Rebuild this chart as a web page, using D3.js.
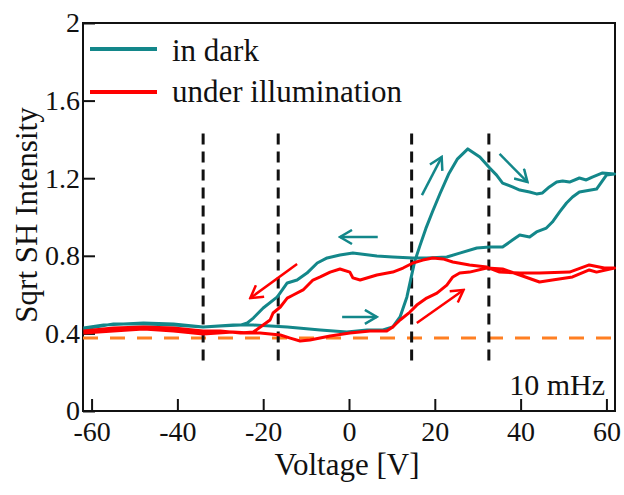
<!DOCTYPE html>
<head>
    <meta charset="utf-8">
    <title>Sqrt SH Intensity vs Voltage</title>
    <script type="text/javascript" src="https://d3js.org/d3.v7.min.js"></script>
    <style>
        body { margin: 0; background: #fff; }
    </style>
</head>
<body>
<div id="container"></div>

<script>
    //-----------------------------DATA-----------------------------//
    // in dark : forward sweep (-62 -> 62) then back sweep (62 -> -62)
    const darkV = [-61.9,-57.2,-47.9,-40.9,-34.0,-27.0,-22.3,-14.4,-6.7,-0.5,4.2,7.9,10.2,11.9,13.5,14.4,15.3,16.5,17.9,19.5,21.2,23.2,25.3,27.7,30.5,32.8,34.4,35.8,38.1,39.8,42.1,43.7,45.1,46.7,48.4,49.8,51.4,53.7,55.3,56.7,59.1,61.9,
                   60.0,57.7,53.7,52.1,50.7,49.1,47.4,46.0,43.7,42.1,39.8,38.1,35.8,32.8,29.8,25.8,22.8,18.1,14.9,10.2,6.5,0.9,-2.1,-5.1,-7.4,-9.8,-12.1,-14.4,-16.7,-20.0,-22.3,-23.7,-25.3,-30.0,-34.0,-40.9,-47.9,-54.9,-61.9];
    const darkI = [0.428,0.443,0.454,0.448,0.433,0.443,0.443,0.433,0.418,0.407,0.418,0.418,0.433,0.485,0.588,0.68,0.77,0.85,0.94,1.03,1.12,1.22,1.30,1.351,1.309,1.253,1.216,1.175,1.155,1.139,1.129,1.119,1.124,1.155,1.18,1.186,1.18,1.201,1.191,1.206,1.227,1.222,
                   1.216,1.144,1.129,1.103,1.072,1.026,0.974,0.943,0.923,0.897,0.907,0.881,0.845,0.845,0.840,0.814,0.794,0.789,0.789,0.794,0.799,0.814,0.804,0.789,0.763,0.711,0.675,0.660,0.588,0.531,0.479,0.454,0.443,0.438,0.433,0.443,0.448,0.448,0.423];

    // under illumination : forward then back
    const lightV = [-61.9,-54.9,-47.9,-40.9,-34.0,-27.0,-23.0,-20.7,-16.0,-13.7,-11.4,-9.1,-4.4,0.2,4.9,8.8,10.2,11.9,14.2,15.8,18.1,20.5,22.8,24.2,25.8,28.1,32.1,35.8,39.8,44.4,47.4,52.1,56.0,57.7,61.9,
                    59.5,56.0,51.4,44.4,39.8,35.1,32.1,28.1,24.2,21.9,19.5,17.2,14.9,12.6,10.2,6.5,2.6,0.9,0.2,-2.1,-4.4,-6.7,-8.4,-10.7,-13.0,-14.4,-16.0,-17.7,-18.4,-20.0,-22.3,-25.3,-30.0,-34.0,-40.9,-47.9,-54.9,-61.9];
    const lightI = [0.402,0.412,0.423,0.412,0.397,0.407,0.402,0.402,0.392,0.376,0.361,0.366,0.387,0.402,0.412,0.412,0.433,0.469,0.510,0.546,0.582,0.608,0.649,0.691,0.711,0.716,0.737,0.732,0.701,0.665,0.675,0.691,0.727,0.716,0.737,
                    0.737,0.753,0.716,0.711,0.711,0.716,0.742,0.753,0.768,0.784,0.789,0.778,0.763,0.737,0.716,0.701,0.675,0.686,0.716,0.732,0.716,0.691,0.675,0.624,0.598,0.582,0.536,0.505,0.469,0.443,0.407,0.402,0.412,0.412,0.428,0.433,0.428,0.412];

    const xTicks = [-60, -40, -20, 0, 20, 40, 60];
    const yTicks = [0, 0.4, 0.8, 1.2, 1.6, 2];
    const seriesNames = ["in dark", "under illumination"];

    // vertical guide voltages, baseline level
    const guideV = [-34, -16.5, 14.6, 32.6];
    const guideRange = [0.237, 1.43];
    const baseLevel = 0.376;

    // sweep direction arrows [v0, i0, v1, i1]
    const darkArrows = [[6.7, 0.897, -2.1, 0.897], [17.0, 1.113, 21.6, 1.309], [35.1, 1.325, 41.6, 1.18], [-1.6, 0.485, 6.5, 0.485]];
    const lightArrows = [[-12.1, 0.758, -23.0, 0.582], [15.8, 0.454, 26.7, 0.624]];

    //------------------------1. PREPARATION------------------------//
    const width = 624;
    const height = 495;
    const plotLeft = 83, plotRight = 615, plotTop = 23, plotBottom = 411;
    const teal = "#13878a";
    const red = "#ff0000";
    const serif = "'Liberation Serif'";

    const svg = d3.select("div#container").append("svg")
        .attr("width", width)
        .attr("height", height);

    const xScale = d3.scaleLinear().domain([-62, 62]).range([plotLeft, plotRight]);
    const yScale = d3.scaleLinear().domain([0, 2]).range([plotBottom, plotTop]);

    const line = d3.line()
        .x(function(d) { return xScale(d[0]); })
        .y(function(d) { return yScale(d[1]); });

    const dark = darkV.map(function(v, i) { return [v, darkI[i]]; });
    const light = lightV.map(function(v, i) { return [v, lightI[i]]; });

    //-----------------------------AXES-----------------------------//
    const xaxis = d3.axisBottom(xScale)
        .tickValues(xTicks)
        .tickFormat(function(d) { return String(d); })
        .tickSizeInner(-12)
        .tickSizeOuter(0)
        .tickPadding(10);

    const yaxis = d3.axisLeft(yScale)
        .tickValues(yTicks)
        .tickFormat(function(d) { return d === 0 || d === 2 ? String(d) : d3.format(".1f")(d); })
        .tickSizeInner(-12)
        .tickSizeOuter(0)
        .tickPadding(3);

    const gx = svg.append("g")
        .attr("transform", "translate(0," + plotBottom + ")")
        .call(xaxis);
    const gy = svg.append("g")
        .attr("transform", "translate(" + plotLeft + ",0)")
        .call(yaxis);

    [gx, gy].forEach(function(g) {
        g.select(".domain").remove();
        g.selectAll(".tick line").attr("stroke", "#111").attr("stroke-width", 2);
        g.selectAll(".tick text")
            .style("font-family", serif)
            .style("font-size", "28px")
            .attr("fill", "#111");
    });

    // frame
    svg.append("rect")
        .attr("x", plotLeft).attr("y", plotTop)
        .attr("width", plotRight - plotLeft).attr("height", plotBottom - plotTop)
        .attr("fill", "none").attr("stroke", "#111").attr("stroke-width", 2);

    //--------------------------GUIDES------------------------------//
    svg.append("line")
        .attr("x1", xScale(-62)).attr("x2", xScale(62))
        .attr("y1", yScale(baseLevel)).attr("y2", yScale(baseLevel))
        .attr("stroke", "#ff7f22").attr("stroke-width", 3)
        .attr("stroke-dasharray", "15,12");

    svg.selectAll(".guide")
        .data(guideV)
        .enter()
        .append("line")
        .attr("class", "guide")
        .attr("x1", function(d) { return xScale(d); })
        .attr("x2", function(d) { return xScale(d); })
        .attr("y1", yScale(guideRange[1]))
        .attr("y2", yScale(guideRange[0]))
        .attr("stroke", "#111").attr("stroke-width", 3)
        .attr("stroke-dasharray", "11,7");

    //----------------------------LINES-----------------------------//
    svg.append("path")
        .attr("d", line(dark))
        .attr("fill", "none").attr("stroke", teal)
        .attr("stroke-width", 3).attr("stroke-linejoin", "round");

    svg.append("path")
        .attr("d", line(light))
        .attr("fill", "none").attr("stroke", red)
        .attr("stroke-width", 3).attr("stroke-linejoin", "round");

    //---------------------------ARROWS-----------------------------//
    const defs = svg.append("defs");
    [["head-dark", teal], ["head-light", red]].forEach(function(m) {
        defs.append("marker")
            .attr("id", m[0])
            .attr("markerUnits", "userSpaceOnUse")
            .attr("viewBox", "-14 -8 16 16")
            .attr("markerWidth", 16).attr("markerHeight", 16)
            .attr("refX", 0).attr("refY", 0)
            .attr("orient", "auto")
            .append("path")
            .attr("d", "M-12,-7L0,0L-12,7")
            .attr("fill", "none").attr("stroke", m[1])
            .attr("stroke-width", 2.5).attr("stroke-linejoin", "miter");
    });

    function drawArrows(list, color, marker) {
        svg.selectAll(null)
            .data(list)
            .enter()
            .append("line")
            .attr("x1", function(d) { return xScale(d[0]); })
            .attr("y1", function(d) { return yScale(d[1]); })
            .attr("x2", function(d) { return xScale(d[2]); })
            .attr("y2", function(d) { return yScale(d[3]); })
            .attr("stroke", color).attr("stroke-width", 2.5)
            .attr("marker-end", "url(#" + marker + ")");
    }
    drawArrows(darkArrows, teal, "head-dark");
    drawArrows(lightArrows, red, "head-light");

    //---------------------------LEGEND-----------------------------//
    const legend = svg.append("g");
    [teal, red].forEach(function(c, i) {
        legend.append("line")
            .attr("x1", 90).attr("x2", 157)
            .attr("y1", 49 + i * 43).attr("y2", 49 + i * 43)
            .attr("stroke", c).attr("stroke-width", 4);
        legend.append("text")
            .attr("x", 172).attr("y", 61 + i * 41)
            .style("font-family", serif).style("font-size", "31px")
            .attr("fill", "#111")
            .text(seriesNames[i]);
    });

    //---------------------------LABELS-----------------------------//
    svg.append("text")
        .attr("x", 347).attr("y", 475)
        .attr("text-anchor", "middle")
        .style("font-family", serif).style("font-size", "31px")
        .attr("fill", "#111")
        .text("Voltage [V]");

    svg.append("text")
        .attr("transform", "translate(37,215) rotate(-90)")
        .attr("text-anchor", "middle")
        .style("font-family", serif).style("font-size", "31px")
        .attr("fill", "#111")
        .text("Sqrt SH Intensity");

    svg.append("text")
        .attr("x", 605).attr("y", 395)
        .attr("text-anchor", "end")
        .style("font-family", serif).style("font-size", "30px")
        .attr("fill", "#111")
        .text("10 mHz");
</script>
</body>
